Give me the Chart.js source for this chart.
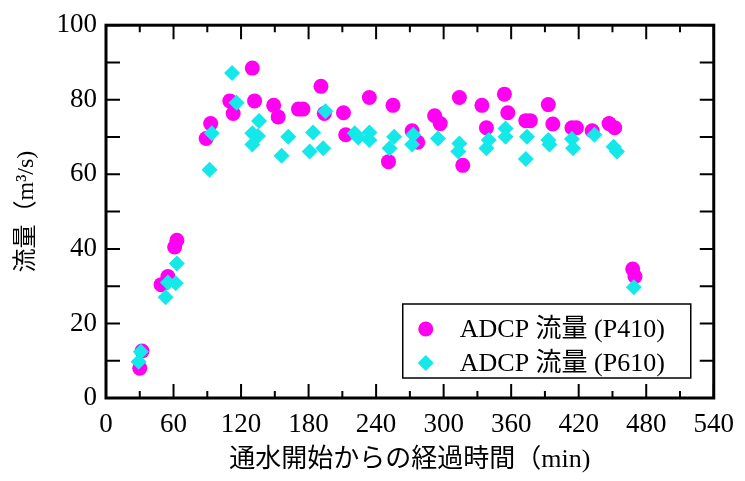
<!DOCTYPE html>
<html>
<head>
<meta charset="utf-8">
<script src="https://cdn.jsdelivr.net/npm/chart.js"></script>
<style>
  html, body { margin: 0; padding: 0; background: #fff; }
  #wrap { width: 745px; height: 481px; }
</style>
</head>
<body>
<div id="wrap"><canvas id="flowChart"></canvas></div>

<script>
    // elapsed time (min) and discharge (m3/s) per gauge
    const p410Time = [30, 32, 49, 55, 61, 63, 89, 93, 110, 113, 130, 132, 149, 153, 171, 175, 191, 194, 211, 213,
                      234, 255, 251, 272, 277, 292, 297, 314, 317, 334, 338, 354, 357, 373, 377, 393, 397, 414, 418,
                      432, 447, 452, 468, 470];
    const p410Flow = [8.0, 12.6, 30.4, 32.6, 40.5, 42.3, 69.6, 73.6, 79.7, 76.3, 88.5, 79.7, 78.5, 75.4, 77.5, 77.5,
                      83.6, 76.3, 76.5, 70.6, 80.6, 78.5, 63.4, 71.7, 68.6, 75.7, 73.6, 80.6, 62.4, 78.5, 72.5, 81.5,
                      76.5, 74.4, 74.4, 78.7, 73.5, 72.5, 72.5, 71.7, 73.6, 72.5, 34.6, 32.6];

    const p610Time = [29, 31, 53, 55, 62, 63, 92, 94, 112, 116, 136, 130, 135, 130, 156, 162, 181, 184, 193, 195,
                      221, 224, 234, 234, 256, 252, 273, 272, 295, 314, 313, 340, 338, 355, 355, 374, 373, 393, 394,
                      414, 415, 434, 451, 454, 469];
    const p610Flow = [9.7, 12.4, 27.0, 31.0, 30.8, 36.1, 61.2, 71.0, 87.2, 79.2, 74.3, 71.0, 70.3, 68.0, 65.0, 70.1,
                      66.1, 71.2, 67.0, 76.9, 71.0, 69.9, 71.2, 69.2, 70.1, 67.0, 70.6, 68.0, 69.6, 68.3, 66.1, 69.2,
                      67.0, 72.3, 70.1, 70.1, 64.1, 69.2, 68.0, 69.5, 67.0, 70.6, 67.4, 66.1, 29.7];

    const seriesLabels = ['ADCP 流量 (P410)', 'ADCP 流量 (P610)'];
    const xTitle = '通水開始からの経過時間（min)';
    const yTitle = '流量（m³/s)';

    const serif = '"Liberation Serif", "Noto Sans CJK JP", serif';

    const toPoints = (xs, ys) => xs.map((t, i) => ({ x: t, y: ys[i] }));

    // box frame with inward ticks on all four sides
    const frameTicks = {
        id: 'frameTicks',
        beforeDatasetsDraw(chart) {
            const { ctx, chartArea: a, scales: { x, y } } = chart;
            ctx.save();
            ctx.strokeStyle = '#000';
            ctx.lineWidth = 2;
            ctx.beginPath();
            for (let v = 0; v <= 540; v += 30) {
                const px = x.getPixelForValue(v);
                const len = v % 60 === 0 ? 14 : 7;
                ctx.moveTo(px, a.bottom); ctx.lineTo(px, a.bottom - len);
                ctx.moveTo(px, a.top); ctx.lineTo(px, a.top + len);
            }
            for (let v = 0; v <= 100; v += 10) {
                const py = y.getPixelForValue(v);
                ctx.moveTo(a.left, py); ctx.lineTo(a.left + 14, py);
                ctx.moveTo(a.right, py); ctx.lineTo(a.right - 14, py);
            }
            ctx.stroke();
            ctx.lineWidth = 3;
            ctx.strokeRect(a.left, a.top, a.right - a.left, a.bottom - a.top);
            ctx.restore();
        }
    };

    // legend box in the lower right of the plot
    const boxLegend = {
        id: 'boxLegend',
        afterDraw(chart) {
            const { ctx, chartArea: a } = chart;
            const w = 288, h = 74;
            const left = a.right - 23 - w, top = a.bottom - 20 - h;
            ctx.save();
            ctx.fillStyle = '#fff';
            ctx.fillRect(left, top, w, h);
            ctx.lineWidth = 1.5;
            ctx.strokeStyle = '#000';
            ctx.strokeRect(left, top, w, h);
            ctx.font = '26px ' + serif;
            ctx.textBaseline = 'middle';
            chart.data.datasets.forEach((ds, i) => {
                const cx = left + 23, cy = top + 25 + i * 34, r = ds.pointRadius;
                ctx.fillStyle = ds.backgroundColor;
                ctx.beginPath();
                if (ds.pointStyle === 'rectRot') {
                    ctx.moveTo(cx, cy - r); ctx.lineTo(cx + r, cy);
                    ctx.lineTo(cx, cy + r); ctx.lineTo(cx - r, cy);
                    ctx.closePath();
                } else {
                    ctx.arc(cx, cy, r, 0, Math.PI * 2);
                }
                ctx.fill();
                ctx.fillStyle = '#000';
                ctx.fillText(ds.label, left + 57, cy + 1);
            });
            ctx.restore();
        }
    };

    new Chart(document.getElementById('flowChart'), {
        type: 'scatter',
        data: {
            datasets: [
                {
                    label: seriesLabels[0],
                    data: toPoints(p410Time, p410Flow),
                    pointStyle: 'circle',
                    pointRadius: 7.5,
                    backgroundColor: '#ff00f0',
                    borderWidth: 0,
                    order: 1
                },
                {
                    label: seriesLabels[1],
                    data: toPoints(p610Time, p610Flow),
                    pointStyle: 'rectRot',
                    pointRadius: 8,
                    backgroundColor: '#14e8e8',
                    borderWidth: 0,
                    order: 0
                }
            ]
        },
        options: {
            responsive: true,
            maintainAspectRatio: false,
            animation: false,
            layout: { padding: { top: 23, right: 30, left: 0, bottom: 0 } },
            plugins: { legend: { display: false }, tooltip: { enabled: false } },
            scales: {
                x: {
                    type: 'linear',
                    min: 0, max: 540,
                    afterFit: s => { s.height = 83; },
                    grid: { display: false, drawTicks: false },
                    border: { display: false },
                    ticks: { stepSize: 60, padding: 11, color: '#000', font: { family: serif, size: 27 } },
                    title: { display: true, text: xTitle, color: '#000', padding: { top: 0, bottom: 5 },
                             font: { family: serif, size: 26 } }
                },
                y: {
                    min: 0, max: 100,
                    afterFit: s => { s.width = 106; },
                    grid: { display: false, drawTicks: false },
                    border: { display: false },
                    ticks: { stepSize: 20, padding: 9, color: '#000', font: { family: serif, size: 27 } },
                    title: { display: true, text: yTitle, color: '#000', padding: { top: 12, bottom: 0 },
                             font: { family: serif, size: 24 } }
                }
            }
        },
        plugins: [frameTicks, boxLegend]
    });
</script>
</body>
</html>
